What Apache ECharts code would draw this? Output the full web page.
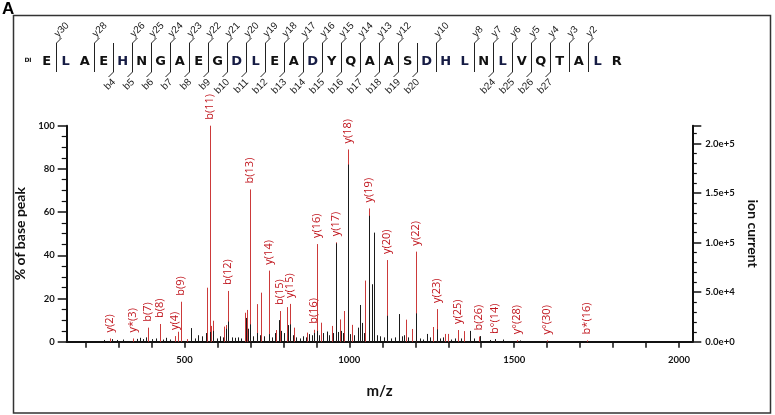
<!DOCTYPE html>
<html>
<head>
<meta charset="utf-8">
<script src="https://cdn.jsdelivr.net/npm/echarts@6/dist/echarts.min.js"></script>
<style>
html,body{margin:0;padding:0;background:#fff;}
#chart{width:775px;height:415px;}
</style>
</head>
<body>
<div id="chart"></div>
<script>
// ---------------- data ----------------
const redMz  = [275,344,391,427,472,482,491,508,568,577,582,588,621,626,633,684,689,699,720,733,756,778,791,811,820,833,871,893,901,915,947,959,972,985,995,1008,1049,1059,1115,1172,1191,1202,1255,1265,1290,1300,1329,1348,1394,1442,1508,1599,1720];
const redInt = [1.5,1.5,6.5,8.2,2.6,4.6,18.5,1.2,25,100,7.3,9.7,7,7.7,23.5,13.4,14.7,70.5,17.4,22.7,32.9,5.4,14.2,16,17.5,6.5,4.2,5.5,45.2,8.8,7.3,46,10.3,14.2,89,7.8,28.3,61.7,37.8,10.2,5.9,41.7,6.8,15.1,3.6,3.6,5.4,4.9,2.4,0.8,0.7,0.6,0.6];
const redLab = ['y(2)','y*(3)','b(7)','b(8)','y(4)','','b(9)','','','b(11)','','','','','b(12)','','','b(13)','','','y(14)','','b(15)','','y(15)','','','b(16)','y(16)','','','y(17)','','','y(18)','','','y(19)','y(20)','','','y(22)','','y(23)','','','y(25)','','b(26)','b°(14)','y°(28)','y°(30)','b*(16)'];

const blackMz  = [257,281,296,314,357,366,375,384,402,414,435,444,457,519,532,542,554,564,577,587,599,608,617,626,633,645,654,663,672,688,693,699,708,720,729,742,756,766,775,786,793,802,813,820,830,839,851,860,869,878,887,894,901,909,921,932,939,951,959,966,975,981,995,1002,1015,1025,1033,1039,1045,1059,1068,1075,1084,1093,1105,1115,1127,1139,1152,1160,1166,1178,1202,1215,1224,1237,1245,1265,1275,1284,1309,1321,1339,1367,1379,1396,1427,1442,1466,1518];
const blackInt = [0.8,1.2,0.8,1.0,1.3,1.8,1.2,2.0,1.2,1.5,1.0,1.8,1.0,6.3,1.5,3.0,2.5,4.0,4.5,5.0,1.5,2.5,2.0,6.0,9.3,2.0,1.8,2.0,1.5,11,6,8,2.5,4,3,2.5,3.5,2,4,10,5,4,7.7,8,3,2,1.5,2.5,2,3.5,3,4,5,3,4,4.7,3,4,45.5,4.5,5,4,82,3.5,3,6.5,17,8.7,4,58.3,26.6,50.5,3,2.5,2,12,1.5,2,12.8,2.5,3,2,13.1,1.5,1,3.6,2,5.7,1.5,2,1,1.5,1.5,5,1.5,2.6,0.8,1.2,1.0,0.6];

const xTicks = [200,300,400,500,600,700,800,900,1000,1100,1200,1300,1400,1500,1600,1700,1800,1900,2000];
const xLabels = [500,1000,1500,2000];
const ionCurrentMax = 218000;

const sequence = 'ELAEHNGAEGDLEADYQAASDHLNLVQTALR';
const yIons = [30,28,26,25,24,23,22,21,20,19,18,17,16,15,14,13,12,10,8,7,6,5,4,3,2];
const bIons = [4,5,6,7,8,9,10,11,12,13,14,15,16,17,18,19,20,24,25,26,27];

// ---------------- header (sequence map) ----------------
const gfx = [];
gfx.push({type:'rect', shape:{x:13.5,y:15.5,width:757,height:397.5}, style:{fill:'none',stroke:'#333',lineWidth:1.5}, z:-1});
gfx.push({type:'text', x:2, y:1, style:{text:'A', fontSize:17, fontWeight:'bold', fontFamily:'Liberation Sans', fill:'#000'}});
gfx.push({type:'text', x:28, y:60, style:{text:'DI', fontSize:6, fontWeight:'bold', fontFamily:'DejaVu Sans', fill:'#111', align:'center', verticalAlign:'middle'}});
const x0 = 46.7, step = 19, yMid = 61.7;
const navy = new Set(['L','D','H']);
sequence.split('').forEach((c,i)=>{
  gfx.push({type:'text', x:x0+step*i, y:yMid, style:{text:c, fontSize:13, fontWeight:'bold', fontFamily:'DejaVu Sans', fill: navy.has(c)?'#161c44':'#111', align:'center', verticalAlign:'middle'}});
});
const N = sequence.length;
const sites = new Set();
yIons.forEach(n=>sites.add(N-n));
bIons.forEach(n=>sites.add(n));
const ionStyle = {fontSize:10, fontFamily:'Liberation Sans', fill:'#222'};
sites.forEach(k=>{
  const sx = Math.round(x0 + step*(k-1) + step/2) + 0.5;
  gfx.push({type:'line', shape:{x1:sx,y1:43,x2:sx,y2:72}, style:{stroke:'#222',lineWidth:1}});
});
yIons.forEach(n=>{
  const k = N-n;
  const sx = Math.round(x0 + step*(k-1) + step/2) + 0.5;
  gfx.push({type:'line', shape:{x1:sx,y1:43,x2:sx+5,y2:38}, style:{stroke:'#222',lineWidth:1}});
  gfx.push({type:'text', x:sx+3, y:39, rotation:Math.PI/4, style:Object.assign({text:'y'+n, align:'left', verticalAlign:'bottom'}, ionStyle)});
});
bIons.forEach(n=>{
  const k = n;
  const sx = Math.round(x0 + step*(k-1) + step/2) + 0.5;
  gfx.push({type:'line', shape:{x1:sx,y1:72,x2:sx-5,y2:77}, style:{stroke:'#222',lineWidth:1}});
  gfx.push({type:'text', x:sx-3, y:77, rotation:Math.PI/4, style:Object.assign({text:'b'+n, align:'right', verticalAlign:'top'}, ionStyle)});
});

// ---------------- chart ----------------
const chart = echarts.init(document.getElementById('chart'), null, {renderer:'canvas'});
const tickFont = {fontFamily:'Lato', fontWeight:'bold', fontSize:9.5, color:'#111'};
const nameFont = {fontFamily:'Lato', fontWeight:'bold', fontSize:14, color:'#111'};

function peakRenderer(color, labels){
  return function(params, api){
    const x = api.value(0), y = api.value(1);
    const top = api.coord([x,y]);
    const base = api.coord([x,0]);
    const px = Math.round(top[0]) + 0.5;
    const children = [{type:'line', shape:{x1:px,y1:base[1],x2:px,y2:top[1]}, style:{stroke:color,lineWidth:1}}];
    const lab = labels ? labels[params.dataIndex] : '';
    if (lab) {
      children.push({type:'text', x:px-1, y:top[1]-6, rotation:Math.PI/2,
        style:{text:lab, align:'left', verticalAlign:'middle', fill:'#c0141c', fontSize:11, fontFamily:'Open Sans'}});
    }
    return {type:'group', children};
  };
}

chart.setOption({
  backgroundColor:'#fff',
  animation:false,
  graphic: gfx,
  grid:{left:66.7, right:82.7, top:125.7, bottom:73.3},
  xAxis:{
    type:'value', min:143, max:2040,
    name:'m/z', nameLocation:'middle', nameGap:42, nameTextStyle:Object.assign({}, nameFont, {fontSize:15}),
    axisLine:{show:true, lineStyle:{color:'#111', width:2}},
    axisTick:{show:true, customValues:xTicks, length:6, lineStyle:{color:'#111', width:1.5}},
    axisLabel:Object.assign({customValues:xLabels, margin:13, formatter:v=>String(v)}, tickFont),
    splitLine:{show:false}
  },
  yAxis:[{
    type:'value', min:0, max:100, interval:20, position:'left',
    name:'% of base peak', nameLocation:'middle', nameGap:35, nameRotate:90, nameTextStyle:nameFont,
    axisLine:{show:true, lineStyle:{color:'#111', width:2}},
    axisTick:{show:true, length:9, lineStyle:{color:'#111', width:1.5}},
    minorTick:{show:true, splitNumber:4, length:5, lineStyle:{color:'#111', width:1.2}},
    axisLabel:Object.assign({margin:12}, tickFont),
    splitLine:{show:false}
  },{
    type:'value', min:0, max:ionCurrentMax, interval:50000, position:'right',
    name:'ion current', nameLocation:'middle', nameGap:51, nameRotate:-90, nameTextStyle:nameFont,
    axisLine:{show:true, lineStyle:{color:'#111', width:2}},
    axisTick:{show:true, length:9, lineStyle:{color:'#111', width:1.5}},
    minorTick:{show:true, splitNumber:5, length:4.5, lineStyle:{color:'#111', width:1.2}},
    axisLabel:Object.assign({margin:13, showMaxLabel:false, formatter:v=>v.toExponential(1)}, tickFont),
    splitLine:{show:false}
  }],
  series:[{
    type:'custom', xAxisIndex:0, yAxisIndex:0, clip:false,
    data: redMz.map((m,i)=>[m, redInt[i]]),
    renderItem: peakRenderer('#cc3a3a', redLab),
    z:2
  },{
    type:'custom', xAxisIndex:0, yAxisIndex:0, clip:false,
    data: blackMz.map((m,i)=>[m, blackInt[i]]),
    renderItem: peakRenderer('#1a1a1a', null),
    z:3
  }]
});
</script>
</body>
</html>
